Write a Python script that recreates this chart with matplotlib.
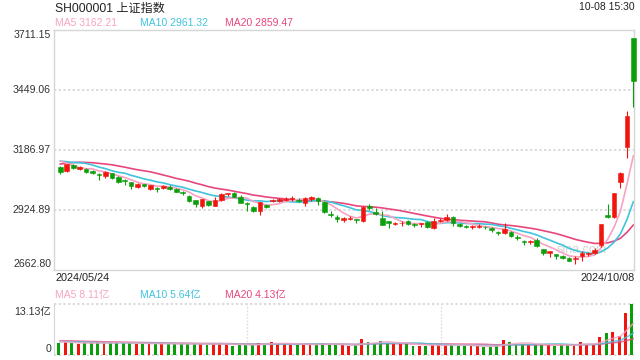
import matplotlib
matplotlib.use('Agg')
import matplotlib.pyplot as plt
import matplotlib.transforms as mtransforms
import numpy as np

plt.rcParams['font.family'] = ['Liberation Sans', 'Noto Sans CJK SC', 'DejaVu Sans']

# ---------------- data ----------------
title = 'SH000001 上证指数'
stamp = '10-08 15:30'
date_labels = ['2024/05/24', '2024/10/08']
price_ticks = [3711.15, 3449.06, 3186.97, 2924.89, 2662.80]
vol_top = 13.13

prior_closes = [3044.82, 3052.90, 3088.64, 3113.04, 3104.82, 3140.72, 3147.74, 3128.48,
                3154.32, 3154.55, 3148.02, 3145.77, 3119.90, 3122.40, 3154.03, 3171.15,
                3157.97, 3158.54, 3116.39]
prior_volumes = [3.6, 3.8, 3.9, 4.0, 3.7, 3.8, 4.1, 3.6, 3.7, 3.8, 3.5, 3.4, 3.4, 3.3,
                 3.6, 3.7, 3.4, 3.3, 3.2]

opens = [
    3111, 3095, 3122, 3105, 3104, 3097, 3082, 3074, 3085, 3071,
    3057, 3046, 3027, 3037, 3018, 3020, 3021, 3027, 3018, 3003,
    2988, 2967, 2944, 2963, 2944, 2968, 2993, 2997, 2983, 2956,
    2940, 2922, 2947, 2964, 2966, 2970, 2975, 2968, 2956, 2972,
    2976, 2960, 2908, 2893, 2880, 2886, 2884, 2877, 2942, 2915,
    2889, 2877, 2863, 2866, 2877, 2862, 2863, 2874, 2848, 2875,
    2880, 2896, 2862, 2856, 2851, 2852, 2852, 2848, 2829, 2824,
    2830, 2808, 2791, 2783, 2792, 2754, 2738, 2731, 2724, 2716,
    2710, 2722, 2733, 2738, 2770, 2901, 2893, 3049, 3198, 3674.40]
highs = [
    3115, 3125, 3126, 3115, 3108, 3099, 3088, 3094, 3087, 3073,
    3062, 3048, 3041, 3040, 3035, 3027, 3033, 3035, 3020, 3006,
    2990, 2968, 2973, 2966, 2982, 2998, 3000, 3005, 2990, 2960,
    2942, 2960, 2952, 2975, 2976, 2980, 2985, 2978, 2980, 2987,
    2980, 2963, 2920, 2903, 2895, 2897, 2886, 2942, 2950, 2933,
    2919, 2879, 2873, 2875, 2880, 2867, 2870, 2876, 2888, 2888,
    2906, 2898, 2868, 2859, 2861, 2862, 2856, 2851, 2834, 2868,
    2833, 2815, 2793, 2795, 2801, 2756, 2747, 2733, 2730, 2719,
    2722, 2746, 2743, 2760, 2864, 2952, 3001, 3092, 3358.59, 3674.40]
lows = [
    3080, 3090, 3105, 3100, 3088, 3080, 3058, 3065, 3062, 3045,
    3034, 3017, 3022, 3025, 3012, 3005, 3016, 3013, 3003, 2990,
    2960, 2938, 2934, 2943, 2942, 2965, 2988, 2980, 2955, 2922,
    2918, 2904, 2934, 2958, 2962, 2965, 2966, 2958, 2941, 2965,
    2947, 2912, 2895, 2874, 2872, 2880, 2866, 2874, 2926, 2903,
    2859, 2845, 2858, 2855, 2858, 2852, 2850, 2848, 2841, 2872,
    2877, 2856, 2852, 2846, 2842, 2847, 2843, 2830, 2817, 2820,
    2809, 2796, 2772, 2778, 2764, 2728, 2718, 2713, 2713, 2702,
    2689.70, 2703, 2726, 2734, 2763, 2889, 2889, 3020, 3153, 3373]
closes = [
    3088.87, 3124.04, 3109.57, 3111.02, 3091.68, 3086.81, 3078.49, 3091.20, 3065.40, 3048.79,
    3051.28, 3028.05, 3037.47, 3028.92, 3032.63, 3015.89, 3030.25, 3018.05, 3005.44, 2998.14,
    2963.10, 2950.00, 2972.53, 2945.85, 2967.40, 2994.73, 2997.01, 2982.38, 2957.57, 2949.93,
    2922.45, 2959.37, 2939.36, 2970.39, 2971.30, 2974.01, 2976.30, 2962.85, 2977.13, 2982.31,
    2964.22, 2915.37, 2901.95, 2886.43, 2890.90, 2891.85, 2879.30, 2938.75, 2932.39, 2905.34,
    2860.70, 2867.28, 2869.90, 2869.83, 2862.19, 2858.20, 2867.95, 2850.65, 2877.36, 2879.43,
    2893.67, 2866.66, 2856.58, 2848.77, 2854.37, 2855.52, 2848.73, 2837.43, 2823.11, 2842.21,
    2811.04, 2802.98, 2784.28, 2788.31, 2765.81, 2736.49, 2744.19, 2721.80, 2717.12, 2704.09,
    2717.28, 2736.02, 2736.81, 2748.92, 2863.13, 2896.31, 3000.95, 3087.53, 3336.50, 3489.78]
volumes = [
    3.1, 3.15, 3.05, 2.8, 2.95, 2.9, 3.3, 2.95, 3.05, 3.3,
    2.9, 2.95, 2.8, 2.75, 2.9, 2.8, 2.85, 2.75, 2.7, 2.9,
    2.8, 2.7, 2.75, 2.6, 2.8, 2.9, 2.7, 2.25, 2.6, 2.5,
    2.5, 3.1, 2.6, 3.35, 2.8, 2.7, 2.6, 2.5, 2.75, 2.7,
    2.55, 3.1, 2.6, 2.5, 2.4, 2.35, 2.4, 4.05, 3.3, 3.0,
    3.5, 3.1, 2.75, 2.85, 2.85, 2.3, 2.2, 2.3, 2.5, 2.5,
    2.6, 2.55, 2.3, 2.35, 2.3, 2.1, 2.0, 2.05, 2.6, 3.8,
    3.3, 2.75, 2.7, 2.4, 2.65, 2.75, 2.5, 2.35, 2.4, 2.4,
    2.6, 3.3, 2.7, 2.65, 4.6, 5.75, 5.8, 4.9, 10.97, 13.13]

# ---------------- styles ----------------
RED = '#f0150d'
GREEN = '#0b9e0b'
C_MA5 = '#f7a3c2'
C_MA10 = '#3fc4dd'
C_MA20 = '#e8467d'
GRID = '#dcdcdc'
BORDER = '#d6d6d6'
TXT = '#333333'

W, H = 640, 360


def fy(y):
    return 1 - y / H


def mov_avg(prior, vals, n):
    full = np.array(prior + vals, dtype=float)
    out = np.convolve(full, np.ones(n) / n, mode='valid')
    return out[-len(vals):]


n = len(closes)
x = np.arange(n)
o = np.array(opens); c = np.array(closes); h = np.array(highs); l = np.array(lows)
v = np.array(volumes)
up = c >= o
colors = np.where(up, RED, GREEN)

ma5 = mov_avg(prior_closes, closes, 5)
ma10 = mov_avg(prior_closes, closes, 10)
ma20 = mov_avg(prior_closes, closes, 20)
vma5 = mov_avg(prior_volumes, volumes, 5)
vma10 = mov_avg(prior_volumes, volumes, 10)
vma20 = mov_avg(prior_volumes, volumes, 20)

fig = plt.figure(figsize=(6.4, 3.6), dpi=100)
fig.patch.set_facecolor('white')

XL = (-0.98, 89.1)

# ---------------- main panel ----------------
ax = fig.add_axes([54 / W, fy(270), 580 / W, 240 / H])
ax.set_xlim(*XL)
ax.set_ylim(price_ticks[-1], price_ticks[0])
ax.set_xticks([]); ax.set_yticks([])
for s in ax.spines.values():
    s.set_color(BORDER); s.set_linewidth(1.0)

for val in price_ticks[1:-1]:
    ax.axhline(val, color=GRID, lw=1.4, linestyle=(0, (1.2, 1.2)), zorder=0)

ax.text(0.909, 0.085, 'sina.com', transform=ax.transAxes, fontsize=9,
        color='#d4d4d4', ha='center', va='center', zorder=0)

ax.plot(x, ma20, color=C_MA20, lw=1.2, zorder=2)
ax.plot(x, ma10, color=C_MA10, lw=1.2, zorder=2)
ax.plot(x, ma5, color=C_MA5, lw=1.2, zorder=2)

ax.vlines(x, l, h, colors=colors, lw=0.8, zorder=3, clip_on=False)
body_h = np.maximum(np.abs(c - o), 1.5)
ax.bar(x, body_h, bottom=np.minimum(o, c), width=0.72, color=colors,
       edgecolor=colors, linewidth=0.4, zorder=4, clip_on=False)

# y tick labels
lab_trans = mtransforms.blended_transform_factory(fig.transFigure, ax.transData)
offsets = [-3.3, 0, 0, 0, 4.6]
for val, dy in zip(price_ticks, offsets):
    t = mtransforms.offset_copy(lab_trans, fig=fig, x=0, y=dy, units='points')
    ax.text(51 / W, val, f'{val:.2f}', transform=t, ha='right', va='center',
            fontsize=7.6, color=TXT, clip_on=False)

# header texts
fig.text(55 / W, fy(8.5), title, ha='left', va='center', fontsize=8.7, color='#222222')
fig.text(635 / W, fy(7.5), stamp, ha='right', va='center', fontsize=7.5, color='#222222')
fig.text(55 / W, fy(23.5), f'MA5 {ma5[-1]:.2f}', ha='left', va='center', fontsize=7.5, color=C_MA5)
fig.text(140 / W, fy(23.5), f'MA10 {ma10[-1]:.2f}', ha='left', va='center', fontsize=7.5, color=C_MA10)
fig.text(225 / W, fy(23.5), f'MA20 {ma20[-1]:.2f}', ha='left', va='center', fontsize=7.5, color=C_MA20)

fig.text(55 / W, fy(278), date_labels[0], ha='left', va='center', fontsize=7.8, color='#222222')
fig.text(635 / W, fy(278), date_labels[1], ha='right', va='center', fontsize=7.8, color='#222222')

fig.text(55 / W, fy(295), f'MA5 {vma5[-1]:.2f}亿', ha='left', va='center', fontsize=7.5, color=C_MA5)
fig.text(140 / W, fy(295), f'MA10 {vma10[-1]:.2f}亿', ha='left', va='center', fontsize=7.5, color=C_MA10)
fig.text(225 / W, fy(295), f'MA20 {vma20[-1]:.2f}亿', ha='left', va='center', fontsize=7.5, color=C_MA20)

# ---------------- volume panel ----------------
vax = fig.add_axes([54 / W, fy(354.5), 580 / W, 50.2 / H])
vax.set_xlim(*XL)
vax.set_ylim(0, vol_top)
vax.set_xticks([]); vax.set_yticks([])
for k, s in vax.spines.items():
    s.set_visible(k == 'left')
vax.spines['left'].set_color(BORDER)

for val in (0, vol_top):
    vax.axhline(val, color=GRID, lw=1.4, linestyle=(0, (1.2, 1.2)), zorder=0, clip_on=False)
for fr in (1 / 3, 2 / 3):
    vax.plot([fr, fr], [0, 1], transform=vax.transAxes, color=GRID, lw=1.0,
             linestyle=(0, (1.2, 1.2)), zorder=0)

vax.bar(x - 0.22, v, width=0.45, color=colors, zorder=2, clip_on=False)
vax.plot(x, vma20, color=C_MA20, lw=1.2, alpha=0.75, zorder=3)
vax.plot(x, vma10, color=C_MA10, lw=1.2, alpha=0.75, zorder=3)
vax.plot(x, vma5, color=C_MA5, lw=1.2, alpha=0.75, zorder=3)

vlab_trans = mtransforms.blended_transform_factory(fig.transFigure, vax.transData)
for val, txt, dy in ((vol_top, f'{vol_top:.2f}亿', -5.5), (0, '0', 4.3)):
    t = mtransforms.offset_copy(vlab_trans, fig=fig, x=0, y=dy, units='points')
    vax.text(51 / W, val, txt, transform=t, ha='right', va='center',
             fontsize=7.6, color=TXT, clip_on=False)

fig.savefig('out.png', dpi=100)
